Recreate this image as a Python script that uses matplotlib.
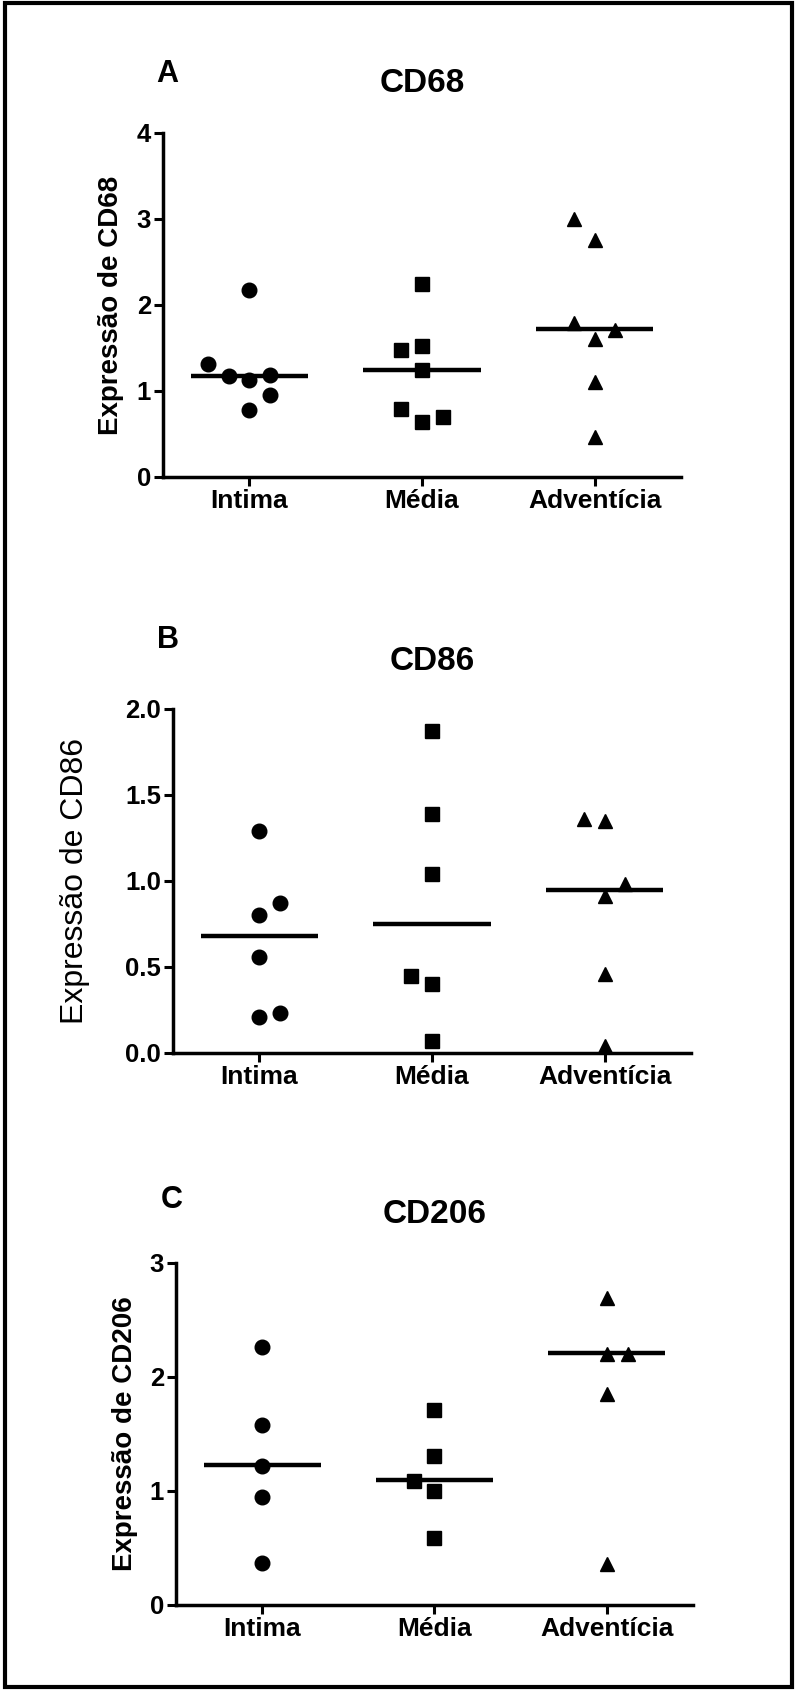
import matplotlib
matplotlib.use("Agg")
import matplotlib.pyplot as plt
from matplotlib.patches import Rectangle
from matplotlib.ticker import FormatStrFormatter

plt.rcParams['font.family'] = ['Liberation Sans', 'DejaVu Sans']

# ---------------- data ----------------
categories = ['Intima', 'Média', 'Adventícia']

cd68_intima = [2.17, 1.31, 1.17, 1.13, 1.19, 0.95, 0.78]
cd68_media = [2.25, 1.48, 1.52, 1.25, 0.79, 0.64, 0.70]
cd68_adventicia = [3.00, 2.76, 1.79, 1.71, 1.61, 1.11, 0.47]
cd68_lines = [1.17, 1.25, 1.72]

cd86_intima = [1.29, 0.80, 0.87, 0.56, 0.21, 0.23]
cd86_media = [1.87, 1.39, 1.04, 0.45, 0.40, 0.07]
cd86_adventicia = [1.36, 1.35, 0.98, 0.91, 0.46, 0.04]
cd86_lines = [0.68, 0.75, 0.95]

cd206_intima = [2.26, 1.58, 1.22, 0.95, 0.37]
cd206_media = [1.71, 1.31, 1.09, 1.00, 0.59]
cd206_adventicia = [2.69, 2.20, 2.20, 1.85, 0.36]
cd206_lines = [1.23, 1.10, 2.21]

# horizontal scatter slots (Prism-style dot arrangement)
cd68_slots = [[0, -2, -1, 0, 1, 1, 0], [0, -1, 0, 0, -1, 0, 1], [-1, 0, -1, 1, 0, 0, 0]]
cd86_slots = [[0, 0, 1, 0, 0, 1], [0, 0, 0, -1, 0, 0], [-1, 0, 1, 0, 0, 0]]
cd206_slots = [[0, 0, 0, 0, 0], [0, 0, -1, 0, 0], [0, 0, 1, 0, 0]]

# ---------------- layout ----------------
W, H = 798, 1697
fig = plt.figure(figsize=(W / 100, H / 100), dpi=100)


def fx(px):
    return px / W


def fy(py):
    return 1 - py / H


markers = ['o', 's', '^']
STEP = 0.12
HALF = 0.34


def panel(box, groups, slots, lines, ylim, yticks, fmt, title, letter,
          ylabel, ylabel_bold, ylabel_size, ylabel_x, letter_xy, title_base):
    left, top, right, bottom = box
    ax = fig.add_axes([fx(left), fy(bottom), (right - left) / W, (bottom - top) / H])
    for i, (vals, sl) in enumerate(zip(groups, slots)):
        xs = [i + s * STEP for s in sl]
        ax.plot(xs, vals, linestyle='none', marker=markers[i], markersize=10.5,
                color='black', clip_on=False, zorder=3)
        ax.plot([i - HALF, i + HALF], [lines[i], lines[i]], color='black',
                lw=3.2, solid_capstyle='butt', zorder=2)
    ax.set_xlim(-0.5, 2.5)
    ax.set_ylim(*ylim)
    ax.set_xticks(range(len(categories)))
    ax.set_xticklabels(categories, fontsize=19, fontweight='bold')
    ax.set_yticks(yticks)
    ax.yaxis.set_major_formatter(FormatStrFormatter(fmt))
    for lab in ax.get_yticklabels():
        lab.set_fontsize(18.5)
        lab.set_fontweight('bold')
    for s in ['top', 'right']:
        ax.spines[s].set_visible(False)
    for s in ['left', 'bottom']:
        ax.spines[s].set_linewidth(2.5)
    ax.tick_params(axis='both', direction='out', length=6.5, width=2.2)
    ax.tick_params(axis='x', pad=2.5)
    ax.tick_params(axis='y', pad=2)
    ax.text((ylabel_x - left) / (right - left), 0.5, ylabel, transform=ax.transAxes,
            rotation=90, ha='center', va='center', fontsize=ylabel_size,
            fontweight='bold' if ylabel_bold else 'normal')
    fig.text(fx((left + right) / 2), fy(title_base), title, ha='center', va='baseline',
             fontsize=24, fontweight='bold')
    fig.text(fx(letter_xy[0]), fy(letter_xy[1]), letter, ha='center', va='baseline',
             fontsize=22, fontweight='bold')
    return ax


panel((163, 133, 681, 477), [cd68_intima, cd68_media, cd68_adventicia], cd68_slots,
      cd68_lines, (0, 4), [0, 1, 2, 3, 4], '%d', 'CD68', 'A',
      'Expressão de CD68', True, 20, 111, (167, 82), 92)

panel((173, 709, 691, 1053), [cd86_intima, cd86_media, cd86_adventicia], cd86_slots,
      cd86_lines, (0, 2), [0, 0.5, 1.0, 1.5, 2.0], '%.1f', 'CD86', 'B',
      'Expressão de CD86', False, 23, 75, (168, 648), 670)

panel((176, 1263, 693, 1605), [cd206_intima, cd206_media, cd206_adventicia], cd206_slots,
      cd206_lines, (0, 3), [0, 1, 2, 3], '%d', 'CD206', 'C',
      'Expressão de CD206', True, 20, 125, (172, 1208), 1223)

# outer frame
fig.patches.append(Rectangle((fx(5), fy(1687)), (792 - 5) / W, (1687 - 3) / H,
                             transform=fig.transFigure, fill=False, lw=3,
                             edgecolor='black'))

fig.savefig('out.png', dpi=100)
